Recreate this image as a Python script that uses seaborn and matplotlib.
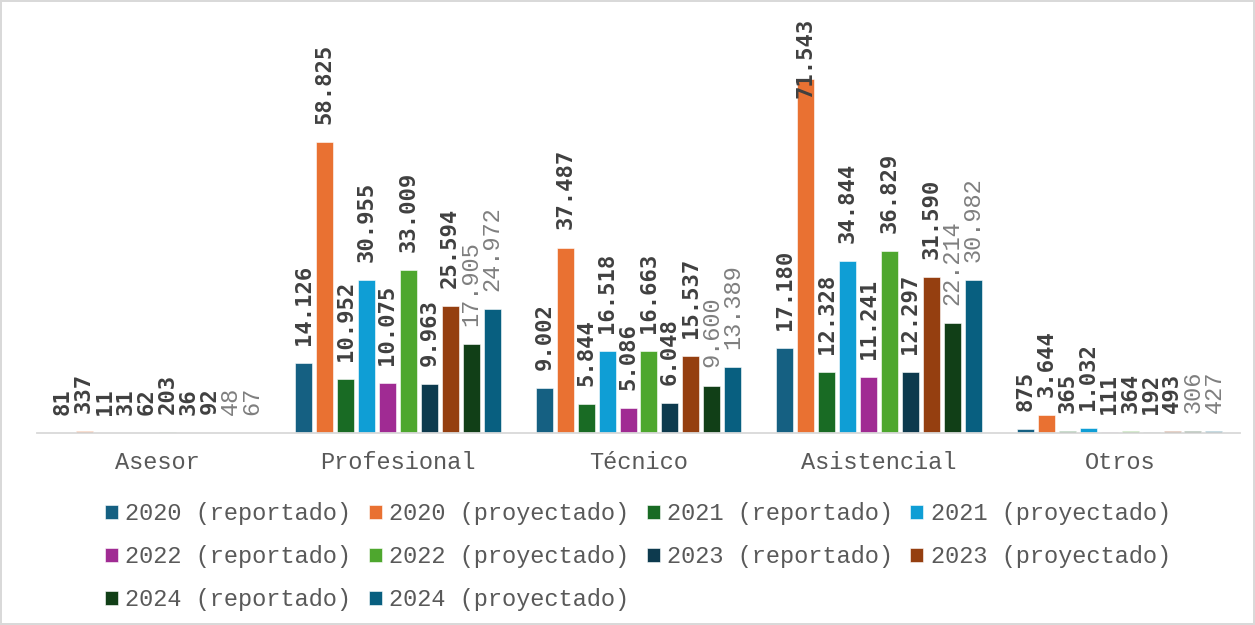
import matplotlib
matplotlib.use("Agg")
import matplotlib.pyplot as plt
import seaborn as sns
import pandas as pd

categories = ["Asesor", "Profesional", "Técnico", "Asistencial", "Otros"]
series = [
    "2020 (reportado)", "2020 (proyectado)",
    "2021 (reportado)", "2021 (proyectado)",
    "2022 (reportado)", "2022 (proyectado)",
    "2023 (reportado)", "2023 (proyectado)",
    "2024 (reportado)", "2024 (proyectado)",
]
rep_2020 = [81, 14126, 9002, 17180, 875]
proy_2020 = [337, 58825, 37487, 71543, 3644]
rep_2021 = [11, 10952, 5844, 12328, 365]
proy_2021 = [31, 30955, 16518, 34844, 1032]
rep_2022 = [62, 10075, 5086, 11241, 111]
proy_2022 = [203, 33009, 16663, 36829, 364]
rep_2023 = [36, 9963, 6048, 12297, 192]
proy_2023 = [92, 25594, 15537, 31590, 493]
rep_2024 = [48, 17905, 9600, 22214, 306]
proy_2024 = [67, 24972, 13389, 30982, 427]

values = [rep_2020, proy_2020, rep_2021, proy_2021, rep_2022,
          proy_2022, rep_2023, proy_2023, rep_2024, proy_2024]
colors = ["#156082", "#E97132", "#196B24", "#0F9ED5", "#A02B93",
          "#4EA72E", "#0D3A4E", "#953F10", "#113F17", "#085F80"]

rows = []
for name, vals in zip(series, values):
    for cat, v in zip(categories, vals):
        rows.append({"Categoría": cat, "Serie": name, "Valor": v})
df = pd.DataFrame(rows)

sns.set_style("white")
mono = "Liberation Mono"

fig = plt.figure(figsize=(12.55, 6.25), dpi=100, facecolor="white",
                 edgecolor="#d9d9d9", linewidth=1.5)
ax = fig.add_axes([37 / 1255, 192 / 625, 1203 / 1255, 423 / 625])

sns.barplot(data=df, x="Categoría", y="Valor", hue="Serie", order=categories,
            hue_order=series, palette=colors, width=0.87, gap=0.19,
            edgecolor="white", linewidth=0.4, saturation=1, ax=ax, legend=True)

ax.set_ylim(0, 85500)
ax.set_xlim(-0.5, 4.5)
ax.set_xlabel("")
ax.set_ylabel("")
ax.set_yticks([])
for s in ["top", "left", "right"]:
    ax.spines[s].set_visible(False)
ax.spines["bottom"].set_color("#d9d9d9")
ax.spines["bottom"].set_linewidth(1.3)
ax.tick_params(axis="x", length=0, pad=13, labelsize=17, labelcolor="#595959")
for lbl in ax.get_xticklabels():
    lbl.set_fontfamily(mono)


def fmt(v):
    return f"{v:,}".replace(",", ".")


labels = []
for i, cont in enumerate(ax.containers):
    light = series[i].startswith("2024")
    for bar, v in zip(cont, values[i]):
        x = bar.get_x() + bar.get_width() / 2
        if light:
            kw = dict(fontfamily=mono, fontweight="normal", color="#7f7f7f", fontsize=17)
        else:
            kw = dict(fontfamily="DejaVu Sans Mono", fontweight="bold", color="#404040", fontsize=16)
        t = ax.annotate(fmt(v), xy=(x, v), xytext=(0, 13), textcoords="offset points",
                        rotation=90, ha="center", va="bottom", **kw)
        labels.append(t)

# legend entries read across rows (matplotlib fills columns first)
handles, _ = ax.get_legend_handles_labels()
order = [0, 4, 8, 1, 5, 9, 2, 6, 3, 7]
leg = ax.legend([handles[k] for k in order], [series[k] for k in order], ncol=4,
                loc="upper left",
                bbox_to_anchor=(105 / 1255, 123 / 625), bbox_transform=fig.transFigure,
                frameon=False, prop={"family": mono, "size": 17},
                labelcolor="#595959", handlelength=0.55, handleheight=0.55,
                handletextpad=0.3, columnspacing=0.75, labelspacing=0.85,
                borderpad=0, borderaxespad=0)

# keep labels inside the plotting area
fig.canvas.draw()
renderer = fig.canvas.get_renderer()
limit = 625 - 18
for t in labels:
    bb = t.get_window_extent(renderer)
    if bb.y1 > limit:
        dx, dy = t.xyann
        t.xyann = (dx, dy - (bb.y1 - limit) * 72 / fig.dpi)

fig.savefig("out.png", dpi=100, facecolor="white", edgecolor="#d9d9d9")
